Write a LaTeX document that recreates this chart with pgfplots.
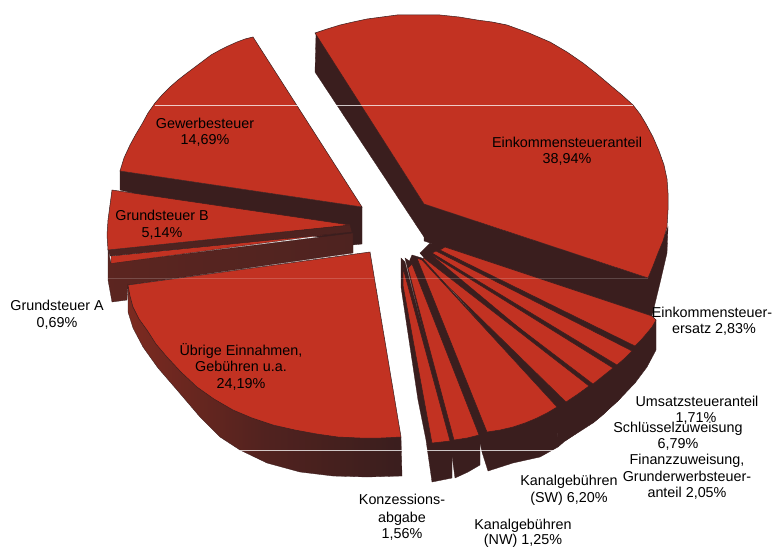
\documentclass[border=0pt]{standalone}
\usepackage{fontspec}
\setmainfont{Liberation Sans}
\usepackage{pgfplots}
\pgfplotsset{compat=1.18}
\definecolor{pr}{HTML}{C23222}
\definecolor{pd}{HTML}{3A1E1E}
\definecolor{pm}{HTML}{4E2320}
\definecolor{pl}{HTML}{7C2A20}
\newcommand{\lab}[3]{\node[anchor=base,inner sep=0pt,text=black,font=\fontsize{14.4}{16}\selectfont] at (axis cs:#1,#2) {#3};}
\begin{document}
\begin{tikzpicture}
\path[use as bounding box] (0,0) rectangle (776bp,547bp);
\begin{axis}[at={(0,0)},anchor=south west,scale only axis,width=776bp,height=547bp,
  xmin=0,xmax=776,ymin=0,ymax=547,y dir=reverse,hide axis,clip=false,
  top/.style={fill=pr,draw=pd,line width=0.5pt},
  side/.style={fill=pd,draw=pd,line width=0.3pt}]
% Gewerbesteuer
\addplot[side] coordinates {(120,171)(362,207)(362,244)(352,245)(120,190)} --cycle;
\addplot[top] coordinates {(362,207)(120,171)(124,158)(130,145)(136,134)(142,124)(148,113)(155,103)(162,95)(170,87)(178,80)(187,73)(195,67)(203,61)(211,55)(220,50)(228,46)(237,42)(245,39)(253,37)} --cycle;
% Einkommensteueranteil
\addplot[side] coordinates {(316,34)(424,204)(648,278)(668,227)(667,253)(660,283)(652,316)(424,241)(424,237)(315,72)} --cycle;
\addplot[top] coordinates {(424,204)(315,33)(327,29)(340,25)(353,22)(367,19)(382,17)(397,15)(420,15)(440,15)(459,17)(477,20)(492,22)(507,25)(529,33)(550,42)(567,52)(583,63)(597,74)(610,85)(622,95)(633,105)(640,114)(646,124)(653,137)(659,151)(664,165)(667,179)(668,193)(668,210)(667,227)(663,241)(658,253)(653,266)(648,278)} --cycle;
% Grundsteuer A
\addplot[draw=pd,line width=0.3pt,left color=pl!30!pm,right color=pm] coordinates {(108,250)(111,263)(353,233)(353,253)(128,285)(127,300)(112,302)(108,280)} --cycle;
\addplot[fill=pr,draw=pd,line width=0.3pt] coordinates {(111,256)(346,232)(111,263.5)} --cycle;
% Grundsteuer B
\addplot[fill=pm,draw=pd,line width=0.3pt] coordinates {(108,250)(350,225)(352,232)(110,256)} --cycle;
\addplot[top] coordinates {(112,190)(350,225)(108,250)(107,235)(108,220)(110,205)} --cycle;
% Uebrige Einnahmen
\addplot[draw=pd,line width=0.3pt,left color=pl,right color=pd,middle color=pd!65!pl] coordinates {(128,285)(133,307)(147,330)(167,357)(197,387)(233,410)(273,425)(317,434)(360,438)(401,437)(402,476)(367,477)(333,476)(300,472)(267,463)(240,450)(220,437)(200,417)(177,390)(158,368)(143,347)(133,328)(128,312)} --cycle;
\addplot[top] coordinates {(128,285)(370,252)(401,437)(381,438)(360,438)(338,437)(317,434)(295,430)(273,425)(252,418)(233,410)(214,399)(197,387)(181,372)(167,357)(156,344)(147,330)(139,319)(133,307)(130,296)} --cycle;
% fan underlay
\addplot[side] coordinates {(430,243)(635,350)(635,383)(617,402)(593,423)(565,441)(558,447)(556,410)(420,253)} --cycle;
% Einkommensteuerersatz
\addplot[side] coordinates {(432,243)(432,250)(630,348)(635,383)(647,367)(656,350)(656,320)(445,247)} --cycle;
\addplot[top] coordinates {(445,247)(652,316)(656,320)(652,327)(647,333)(641,340)(635,346)(440,250)} --cycle;
% Umsatzsteueranteil
\addplot[side] coordinates {(430,247)(428,254)(613,365)(617,402)(633,383)(632,351)} --cycle;
\addplot[top] coordinates {(436,251)(632,351)(625,358)(617,365)(432,253)} --cycle;
% Schluesselzuweisung
\addplot[side] coordinates {(427,250)(423,255)(590,385)(593,423)(604,414)(615,403)(613,368)} --cycle;
\addplot[top] coordinates {(430,254)(613,368)(603,376)(593,384)(426,257)} --cycle;
% Finanzzuweisung
\addplot[side] coordinates {(428,252)(420,253)(558,403)(558,425)(565,441)(578,432)(590,423)(589,386)} --cycle;
\addplot[top] coordinates {(424,258)(589,386)(578,394)(566,402)(421,260)} --cycle;
% Kanal SW
\addplot[side] coordinates {(412,255)(409,262)(478,434)(482,452)(488,471)(513,463)(540,457)(558,447)(557,407)(422,258)} --cycle;
\addplot[top] coordinates {(422,260)(557,407)(547,413)(537,418)(525,423)(513,427)(500,430)(487,432)(417,258)} --cycle;
% Kanal NW
\addplot[side] coordinates {(405,258)(450,441)(455,478)(468,472)(480,465)(480,435)(412,263)} --cycle;
\addplot[top] coordinates {(412,264)(479,435)(467,438)(454,440)(408,268)} --cycle;
% Konzessionsabgabe
\addplot[side] coordinates {(401,258)(401,287)(418,400)(426,440)(432,482)(452,478)(452,441)(405,262)} --cycle;
\addplot[top] coordinates {(403,268)(450,441)(432,443)(403,285)} --cycle;
% scan lines
\addplot[white,opacity=0.75,line width=0.6pt] coordinates {(155,105)(633,105)};
\addplot[white,opacity=0.18,line width=0.6pt] coordinates {(108,278)(648,278)};
\addplot[white,opacity=0.75,line width=0.6pt] coordinates {(240,450)(558,450)};
% labels
\lab{567}{147}{Einkommensteueranteil}
\lab{567}{163}{38,94\%}
\lab{205}{128}{Gewerbesteuer}
\lab{205}{144}{14,69\%}
\lab{162}{220}{Grundsteuer B}
\lab{162}{237}{5,14\%}
\lab{57}{310}{Grundsteuer A}
\lab{57}{327}{0,69\%}
\lab{241}{355}{Übrige Einnahmen,}
\lab{241}{371}{Gebühren u.a.}
\lab{241}{388}{24,19\%}
\lab{402}{504}{Konzessions-}
\lab{402}{522}{abgabe}
\lab{402}{538}{1,56\%}
\lab{523}{529}{Kanalgebühren}
\lab{523}{544}{(NW) 1,25\%}
\lab{569}{485}{Kanalgebühren}
\lab{569}{502}{(SW) 6,20\%}
\lab{712}{317}{Einkommensteuer-}
\lab{714}{333}{ersatz 2,83\%}
\lab{697}{406}{Umsatzsteueranteil}
\lab{696}{422}{1,71\%}
\lab{678}{432}{Schlüsselzuweisung}
\lab{678}{448}{6,79\%}
\lab{687}{464}{Finanzzuweisung,}
\lab{687}{481}{Grunderwerbsteuer-}
\lab{687}{497}{anteil 2,05\%}
\end{axis}
\end{tikzpicture}
\end{document}
